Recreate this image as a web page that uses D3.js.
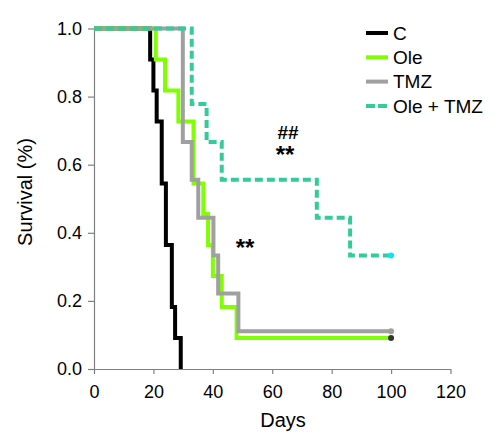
<!DOCTYPE html>
<html>
<head>
<meta charset="utf-8">
<script src="https://cdn.jsdelivr.net/npm/d3@7"></script>
<style>
  body { margin: 0; background: #fff; }
  text { font-family: Arial, "Liberation Sans", sans-serif; }
  .axis path, .axis line { stroke: #808080; stroke-width: 1.2; }
  .axis text { fill: #000; font-size: 18px; }
</style>
</head>
<body>
<svg id="chart" width="498" height="434"></svg>
<script>
// survival curves (days, fraction surviving)
var daysC      = [0, 18.9, 20, 21.1, 22.8, 24.2, 26.2, 27.3, 29.2];
var survC      = [1, 0.909, 0.818, 0.727, 0.545, 0.364, 0.182, 0.091, 0];
var daysOle    = [0, 20.8, 23.9, 28.4, 33.5, 36.8, 38.4, 40, 43, 48, 100];
var survOle    = [1, 0.909, 0.818, 0.727, 0.545, 0.455, 0.364, 0.273, 0.182, 0.091, 0.091];
var daysTMZ    = [0, 29.9, 32.9, 35.1, 40.2, 41.8, 48.6, 100];
var survTMZ    = [1, 0.667, 0.556, 0.444, 0.333, 0.222, 0.111, 0.111];
var daysCombo  = [0, 32.9, 37.9, 43, 75, 86.2, 100];
var survCombo  = [1, 0.778, 0.667, 0.556, 0.444, 0.333, 0.333];

var groups = ['C', 'Ole', 'TMZ', 'Ole + TMZ'];
var xTicks = [0, 20, 40, 60, 80, 100, 120];
var yTicks = [0, 0.2, 0.4, 0.6, 0.8, 1.0];

var series = [
  {name: 'C',         days: daysC,     surv: survC,     color: '#000000', dash: null,  dot: null},
  {name: 'Ole',       days: daysOle,   surv: survOle,   color: '#80ff00', dash: null,  dot: '#333333'},
  {name: 'TMZ',       days: daysTMZ,   surv: survTMZ,   color: '#a0a0a0', dash: null,  dot: '#a0a0a0'},
  {name: 'Ole + TMZ', days: daysCombo, surv: survCombo, color: '#33cc99', dash: '8,4', dot: '#00e8ff'}
];

var svg = d3.select('#chart');
var x = d3.scaleLinear().domain([0, 120]).range([94, 450.5]);
var y = d3.scaleLinear().domain([0, 1]).range([369, 28.5]);

//axes
svg.append('g').attr('class', 'axis')
  .attr('transform', 'translate(0,369)')
  .call(d3.axisBottom(x).tickValues(xTicks).tickSize(5).tickSizeOuter(0).tickPadding(11).tickFormat(d3.format('d')));
svg.append('g').attr('class', 'axis')
  .attr('transform', 'translate(94,0)')
  .call(d3.axisLeft(y).tickValues(yTicks).tickSize(6).tickSizeOuter(0).tickPadding(6).tickFormat(d3.format('.1f')));

svg.append('text').attr('x', 283).attr('y', 427).attr('text-anchor', 'middle')
  .style('font-size', '20px').text('Days');
svg.append('text').attr('transform', 'translate(32,192) rotate(-90)').attr('text-anchor', 'middle')
  .style('font-size', '20px').text('Survival (%)');

//curves
var line = d3.line()
  .x(function(d) { return x(d[0]); })
  .y(function(d) { return y(d[1]); })
  .curve(d3.curveStepAfter);

series.forEach(function(s) {
  var pts = s.days.map(function(d, i) { return [d, s.surv[i]]; });
  svg.append('path').attr('d', line(pts))
    .attr('fill', 'none').attr('stroke', s.color).attr('stroke-width', 4)
    .attr('stroke-dasharray', s.dash);
});
series.forEach(function(s) {
  if (!s.dot) return;
  var n = s.days.length - 1;
  svg.append('circle').attr('cx', x(s.days[n])).attr('cy', y(s.surv[n])).attr('r', 3)
    .attr('fill', s.dot);
});

//significance marks
svg.append('text').attr('x', 288).attr('y', 139).attr('text-anchor', 'middle')
  .style('font-size', '19px').style('font-weight', 'bold').text('##');
svg.append('text').attr('x', 285).attr('y', 163).attr('text-anchor', 'middle')
  .style('font-size', '24px').style('font-weight', 'bold').text('**');
svg.append('text').attr('x', 245).attr('y', 256).attr('text-anchor', 'middle')
  .style('font-size', '24px').style('font-weight', 'bold').text('**');

//legend
var legend = svg.append('g').attr('transform', 'translate(366,33)');
series.forEach(function(s, i) {
  legend.append('line').attr('x1', 0).attr('x2', 22).attr('y1', i * 24.3).attr('y2', i * 24.3)
    .attr('stroke', s.color).attr('stroke-width', 4)
    .attr('stroke-dasharray', s.dash ? '9,3' : null);
  legend.append('text').attr('x', 27).attr('y', i * 24.3).attr('dy', '0.35em')
    .style('font-size', '19px').text(groups[i]);
});
</script>
</body>
</html>
